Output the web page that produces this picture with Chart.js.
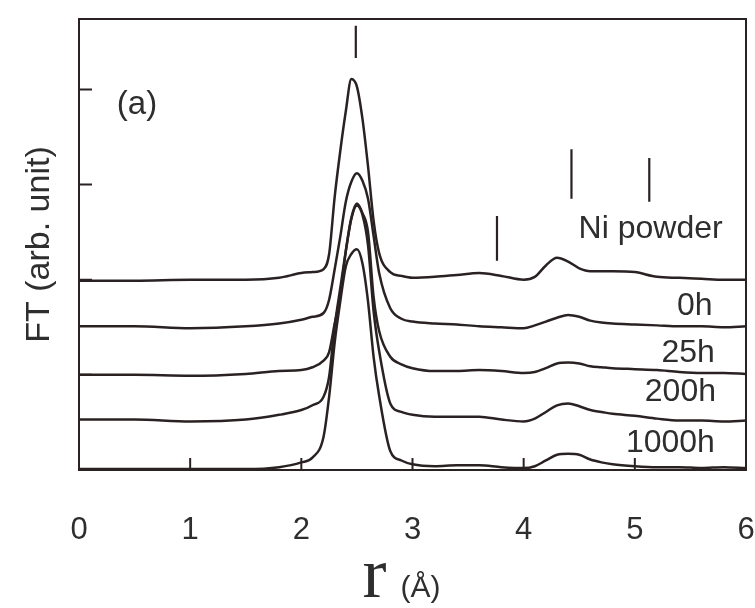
<!DOCTYPE html>
<html>
<head>
<meta charset="utf-8">
<script src="https://cdn.jsdelivr.net/npm/chart.js@4"></script>
<style>
  body { margin: 0; background: #fff; overflow: hidden; }
  #wrap { width: 755px; height: 608px; }
</style>
</head>
<body>
<div id="wrap"><canvas id="ftChart"></canvas></div>
<script>
// r (Å) sampling used for all curves
const r = [0, 0.5, 1, 1.5, 1.8, 2.0, 2.1, 2.2, 2.25, 2.3, 2.35, 2.4, 2.45, 2.5, 2.55, 2.6, 2.65, 2.7, 2.8, 2.9,
           3.0, 3.2, 3.4, 3.6, 3.8, 4.0, 4.1, 4.2, 4.3, 4.4, 4.5, 4.6, 4.7, 4.8, 5.0, 5.2, 5.4, 5.6, 5.8, 6.0];

// FT magnitude (arb. unit), curves stacked with their offsets
const niPowder = [1.99, 1.99, 2.0, 2.0, 2.02, 2.07, 2.08, 2.11, 2.27, 2.87, 3.35, 3.77, 4.11, 4.03, 3.69, 3.19, 2.62, 2.28, 2.08, 2.04,
                  2.02, 2.03, 2.05, 2.07, 2.04, 2.0, 2.03, 2.15, 2.23, 2.19, 2.12, 2.09, 2.09, 2.09, 2.08, 2.03, 2.02, 2.01, 2.0, 2.0];
const h0 = [1.51, 1.51, 1.49, 1.51, 1.54, 1.58, 1.61, 1.65, 1.79, 2.11, 2.45, 2.82, 3.03, 3.12, 3.04, 2.85, 2.46, 2.07, 1.7, 1.59,
            1.56, 1.54, 1.53, 1.51, 1.5, 1.49, 1.52, 1.56, 1.6, 1.63, 1.61, 1.57, 1.55, 1.54, 1.53, 1.52, 1.51, 1.51, 1.5, 1.51];
const h25 = [1.0, 1.0, 0.99, 1.01, 1.04, 1.05, 1.08, 1.15, 1.24, 1.54, 1.83, 2.3, 2.65, 2.8, 2.7, 2.5, 1.82, 1.46, 1.19, 1.11,
             1.07, 1.04, 1.04, 1.05, 1.04, 1.02, 1.03, 1.07, 1.12, 1.13, 1.12, 1.09, 1.08, 1.07, 1.06, 1.05, 1.03, 1.02, 1.02, 1.01];
const h200 = [0.53, 0.53, 0.51, 0.53, 0.58, 0.63, 0.68, 0.77, 0.98, 1.51, 1.91, 2.3, 2.64, 2.78, 2.68, 2.36, 1.67, 1.25, 0.7, 0.61,
              0.58, 0.56, 0.56, 0.56, 0.53, 0.51, 0.54, 0.61, 0.68, 0.7, 0.67, 0.63, 0.61, 0.59, 0.57, 0.54, 0.52, 0.52, 0.51, 0.52];
const h1000 = [0.01, 0.01, 0.01, 0.01, 0.03, 0.08, 0.13, 0.35, 0.77, 1.34, 1.77, 2.14, 2.27, 2.32, 2.17, 1.77, 1.19, 0.78, 0.2, 0.1,
               0.06, 0.04, 0.05, 0.05, 0.03, 0.02, 0.04, 0.1, 0.16, 0.17, 0.16, 0.11, 0.08, 0.06, 0.04, 0.03, 0.03, 0.02, 0.03, 0.02];

const seriesNames = ['Ni powder', '0h', '25h', '200h', '1000h'];
const seriesValues = [niPowder, h0, h25, h200, h1000];

// label anchor (right end r, baseline value) for each curve name
const labelR = [5.79, 5.70, 5.72, 5.73, 5.72];
const labelY = [2.44, 1.63, 1.13, 0.72, 0.19];

// Ni shell position markers
const shellR = [2.49, 3.76, 4.43, 5.13];
const shellTop = [4.67, 2.67, 3.37, 3.28];
const shellBottom = [4.33, 2.2, 2.85, 2.82];

const xTicks = [0, 1, 2, 3, 4, 5, 6];
const yTicks = [1, 2, 3, 4];

const ink = '#2a2222';
const sans = "'Liberation Sans', Arial, sans-serif";

const datasets = seriesValues.map((vals, i) => ({
  label: seriesNames[i],
  data: r.map((x, k) => ({ x: x, y: vals[k] })),
  borderColor: ink,
  borderWidth: 2.5,
  pointRadius: 0,
  cubicInterpolationMode: 'monotone',
  fill: false
}));

datasets.push({
  label: 'shells',
  data: shellR.flatMap((x, i) => [{ x: x, y: shellTop[i] }, { x: x, y: shellBottom[i] }, { x: x, y: null }]),
  borderColor: ink,
  borderWidth: 2.2,
  pointRadius: 0,
  spanGaps: false,
  tension: 0
});

const decorations = {
  id: 'decorations',
  afterDatasetsDraw(chart) {
    const { ctx, chartArea: a, scales: { x, y } } = chart;
    ctx.save();
    ctx.strokeStyle = ink;
    ctx.lineWidth = 2;
    ctx.strokeRect(a.left, a.top, a.right - a.left, a.bottom - a.top);

    // inward tick marks
    ctx.beginPath();
    xTicks.forEach(v => {
      if (v > 0 && v < 6) {
        const px = x.getPixelForValue(v);
        ctx.moveTo(px, a.bottom);
        ctx.lineTo(px, a.bottom - 12);
      }
    });
    yTicks.forEach(v => {
      const py = y.getPixelForValue(v);
      ctx.moveTo(a.left, py);
      ctx.lineTo(a.left + 13, py);
    });
    ctx.stroke();

    // curve names
    ctx.fillStyle = '#2e2e2e';
    ctx.font = '32px ' + sans;
    ctx.textAlign = 'right';
    ctx.textBaseline = 'alphabetic';
    seriesNames.forEach((name, i) => {
      ctx.fillText(name, x.getPixelForValue(labelR[i]), y.getPixelForValue(labelY[i]));
    });

    // panel label
    ctx.textAlign = 'left';
    ctx.font = '33px ' + sans;
    ctx.fillText('(a)', x.getPixelForValue(0.34), y.getPixelForValue(3.74));

    // x axis title: r (Å)
    const cx = (a.left + a.right) / 2;
    ctx.font = '72px "Liberation Serif", "Times New Roman", serif';
    ctx.fillText('r', cx - 50, 597);
    ctx.font = '30px ' + sans;
    ctx.fillText('(Å)', cx - 12, 597);
    ctx.restore();
  }
};

new Chart(document.getElementById('ftChart'), {
  type: 'line',
  data: { datasets: datasets },
  options: {
    responsive: true,
    maintainAspectRatio: false,
    animation: false,
    layout: { padding: { top: 19, right: 9, left: 0, bottom: 0 } },
    plugins: { legend: { display: false }, tooltip: { enabled: false } },
    scales: {
      x: {
        type: 'linear',
        min: 0,
        max: 6,
        border: { display: false },
        grid: { display: false, drawTicks: false },
        ticks: { stepSize: 1, padding: 42, color: '#2e2e2e', font: { size: 31, family: sans } },
        afterFit(s) {
          s.height = 138;
          s.paddingLeft = 0;
          s.paddingRight = 0;
        }
      },
      y: {
        min: 0,
        max: 4.74,
        border: { display: false },
        grid: { display: false, drawTicks: false },
        ticks: { display: false, stepSize: 1 },
        title: {
          display: true,
          text: 'FT (arb. unit)',
          color: '#2e2e2e',
          font: { size: 34, family: sans },
          padding: { top: 19, bottom: 0 }
        },
        afterFit(s) { s.width = 79; }
      }
    }
  },
  plugins: [decorations]
});
</script>
</body>
</html>
